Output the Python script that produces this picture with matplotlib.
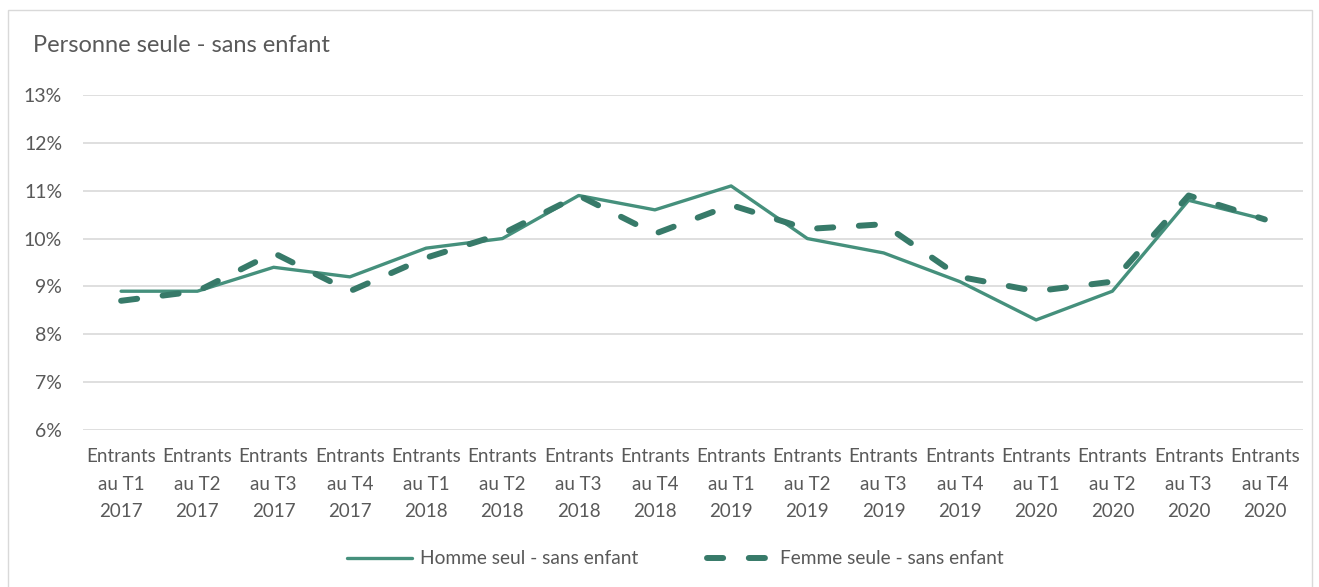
import matplotlib.pyplot as plt
from matplotlib.patches import Rectangle
from matplotlib.ticker import FuncFormatter

plt.rcParams['font.family'] = ['Lato', 'DejaVu Sans']

# trimestres d'entrée
periodes = ['Entrants\nau T1\n2017', 'Entrants\nau T2\n2017', 'Entrants\nau T3\n2017', 'Entrants\nau T4\n2017',
            'Entrants\nau T1\n2018', 'Entrants\nau T2\n2018', 'Entrants\nau T3\n2018', 'Entrants\nau T4\n2018',
            'Entrants\nau T1\n2019', 'Entrants\nau T2\n2019', 'Entrants\nau T3\n2019', 'Entrants\nau T4\n2019',
            'Entrants\nau T1\n2020', 'Entrants\nau T2\n2020', 'Entrants\nau T3\n2020', 'Entrants\nau T4\n2020']

# part en % des entrants
homme_seul = [8.9, 8.9, 9.4, 9.2, 9.8, 10.0, 10.9, 10.6, 11.1, 10.0, 9.7, 9.1, 8.3, 8.9, 10.8, 10.4]
femme_seule = [8.7, 8.9, 9.7, 8.9, 9.6, 10.1, 10.9, 10.1, 10.7, 10.2, 10.3, 9.2, 8.9, 9.1, 10.9, 10.4]

couleur_h = '#45907C'
couleur_f = '#377A69'
gris = '#595959'

fig = plt.figure(figsize=(13.19, 5.87), dpi=100)
fig.patches.append(Rectangle((8 / 1319, -0.01), 1304 / 1319, (587 - 10) / 587 + 0.01,
                             transform=fig.transFigure, fill=False,
                             edgecolor='#D9D9D9', linewidth=1))

ax = fig.add_axes([83 / 1319, (587 - 430) / 587, (1303 - 83) / 1319, (430 - 95) / 587])

x = range(len(periodes))
ax.plot(x, homme_seul, color=couleur_h, linewidth=2.4, label='Homme seul - sans enfant',
        solid_capstyle='round')
ax.plot(x, femme_seule, color=couleur_f, linewidth=4.3, dashes=(2.7, 4.3),
        dash_capstyle='round', label='Femme seule - sans enfant')

ax.set_xlim(-0.5, len(periodes) - 0.5)
ax.set_ylim(6, 13)
ax.set_yticks(range(6, 14))
ax.yaxis.set_major_formatter(FuncFormatter(lambda v, p: f'{v:.0f}%'))
ax.set_xticks(list(x))
ax.set_xticklabels(periodes, linespacing=1.75)
ax.tick_params(axis='both', length=0, labelsize=13.5, colors=gris)
ax.tick_params(axis='x', pad=13)
ax.tick_params(axis='y', pad=15, labelsize=14)

ax.grid(axis='y', color='#D9D9D9', linewidth=1.2)
ax.set_axisbelow(True)
for s in ax.spines.values():
    s.set_visible(False)

fig.text(33 / 1319, 1 - 46 / 587, 'Personne seule - sans enfant', fontsize=17,
         color=gris, va='center', ha='left')

fig.legend(loc='center', bbox_to_anchor=(675 / 1319, 1 - 559 / 587), ncol=2, frameon=False,
           fontsize=13.8, labelcolor=gris, handlelength=3.4, columnspacing=3.6, handletextpad=0.4)

fig.savefig('out.png', dpi=100)
